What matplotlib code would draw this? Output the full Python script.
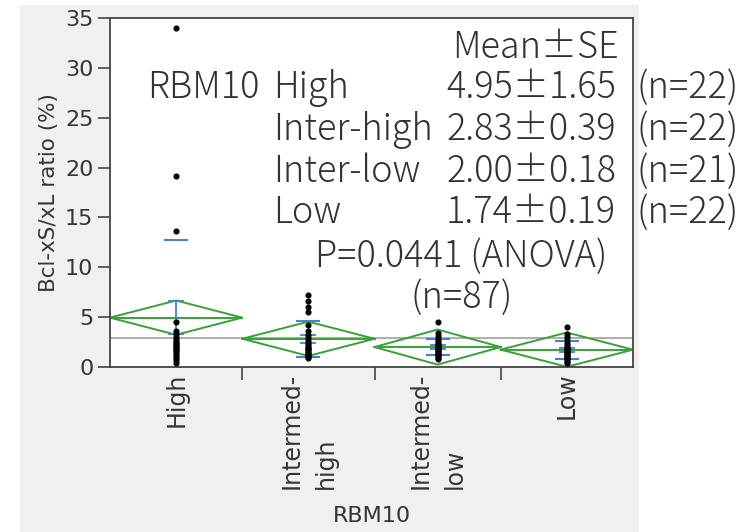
import matplotlib
matplotlib.use("Agg")
import matplotlib.pyplot as plt
from matplotlib.patches import Rectangle
import numpy as np

# group summary (JMP oneway output)
groups = ["High", "Intermed-\nhigh", "Intermed-\nlow", "Low"]
row_names = ["High", "Inter-high", "Inter-low", "Low"]
n = [22, 22, 21, 22]
means = [4.95, 2.83, 2.00, 1.74]
se = [1.65, 0.39, 0.18, 0.19]
sd = [7.74, 1.83, 0.82, 0.89]
ci95 = [1.72, 1.72, 1.76, 1.72]
grand_mean = 2.89
p_text = "P=0.0441 (ANOVA)"
n_total = 87

pts_high = [34.0, 19.2, 13.6, 4.5, 3.6, 3.3, 3.0, 2.8, 2.6, 2.4, 2.3,
            2.2, 2.0, 1.9, 1.8, 1.6, 1.5, 1.3, 1.1, 0.9, 0.7, 0.4]
pts_ihigh = [7.2, 6.6, 6.0, 5.5, 4.2, 3.6, 3.2, 2.9, 2.6, 2.4, 2.2,
             2.0, 1.9, 1.8, 1.7, 1.5, 1.4, 1.3, 1.2, 1.1, 1.0, 0.9]
pts_ilow = [4.5, 3.4, 3.1, 2.8, 2.6, 2.4, 2.3, 2.2, 2.1, 2.0, 1.9,
            1.8, 1.7, 1.6, 1.5, 1.4, 1.3, 1.2, 1.1, 0.9, 0.8]
pts_low = [4.0, 3.3, 3.0, 2.7, 2.4, 2.2, 2.0, 1.9, 1.8, 1.7, 1.6,
           1.5, 1.4, 1.3, 1.2, 1.1, 1.0, 0.9, 0.8, 0.7, 0.5, 0.4]
points = [pts_high, pts_ihigh, pts_ilow, pts_low]

GREEN = "#38a238"
BLUE = "#4a7fd4"
TXT = "#333333"
LAB = "#353535"
W, H = 756, 532

plt.rcParams["font.family"] = ["DejaVu Sans"]

fig = plt.figure(figsize=(W / 100, H / 100), dpi=100)
fig.patch.set_facecolor("white")
fig.patches.append(Rectangle((20 / W, 0), 619 / W, 527 / H, transform=fig.transFigure,
                             facecolor="#f0f0f0", edgecolor="none", zorder=-10))

ax = fig.add_axes([110 / W, 1 - 367 / H, 523 / W, 349 / H])
ax.set_facecolor("white")

# x axis proportional to group size
edges = np.concatenate([[0], np.cumsum(n)])
centers = edges[:-1] + np.array(n) / 2

ax.axhline(grand_mean, color="#a0a0a0", lw=1.2, zorder=1)

for i in range(len(n)):
    L, R, c, m, h = edges[i], edges[i + 1], centers[i], means[i], ci95[i]
    ax.plot([L, c, R, c, L], [m, m + h, m, m - h, m], color=GREEN, lw=1.4, zorder=2)
    ax.plot([L, R], [m, m], color=GREEN, lw=1.4, zorder=2)
    ax.errorbar(c, m, yerr=se[i], color=BLUE, capsize=5.5, lw=1.3, capthick=1.3, zorder=3)
    ax.hlines([m + sd[i], m - sd[i]], c - 2.0, c + 2.0, color=BLUE, lw=1.5, zorder=3)
    ax.plot(np.full(len(points[i]), c), points[i], "o", ms=3.4, color="black", zorder=4)

ax.set_xlim(0, edges[-1])
ax.set_ylim(0, 35)
ax.set_yticks(np.arange(0, 36, 5))
ax.set_xticks(edges[1:-1])
ax.set_xticklabels([])
ax.set_xticks(centers, groups, minor=True)
ax.tick_params(axis="x", which="minor", length=0, pad=4)
ax.tick_params(axis="both", which="major", length=9, width=1.2, color="#444444")
ax.tick_params(axis="y", labelsize=16, labelcolor=LAB, pad=3)
for lab in ax.get_xticklabels(minor=True):
    lab.set_rotation(90)
    lab.set_fontsize(17)
    lab.set_color(LAB)
    lab.set_va("top")
    lab.set_ha("center")
    lab.set_multialignment("left")
    lab.set_linespacing(1.55)
for s in ax.spines.values():
    s.set_color("#444444")
    s.set_linewidth(1.3)

ax.set_ylabel("Bcl-xS/xL ratio (%)", fontsize=15.5, color=LAB, labelpad=4)
ax.set_xlabel("RBM10", fontsize=16, color=LAB)
ax.xaxis.set_label_coords(0.5, -(506 - 367) / 349)


def ftext(x, y, s, **kw):
    fig.text(x / W, 1 - y / H, s, family=["Noto Sans CJK JP", "DejaVu Sans"],
             fontsize=26, fontweight="light", color=TXT, va="baseline", **kw)


ftext(536, 58, "Mean\u00b1SE", ha="center")
ftext(147, 98, "RBM10", ha="left")
rows_y = [98, 140, 182, 223]
for name, m, s, k, y in zip(row_names, means, se, n, rows_y):
    ftext(273, y, name, ha="left")
    ftext(531, y, f"{m:.2f}\u00b1{s:.2f}", ha="center")
    ftext(636, y, f"(n={k})", ha="left")
ftext(461, 267, p_text, ha="center")
ftext(462, 308, f"(n={n_total})", ha="center")

fig.savefig("out.png", dpi=100)
